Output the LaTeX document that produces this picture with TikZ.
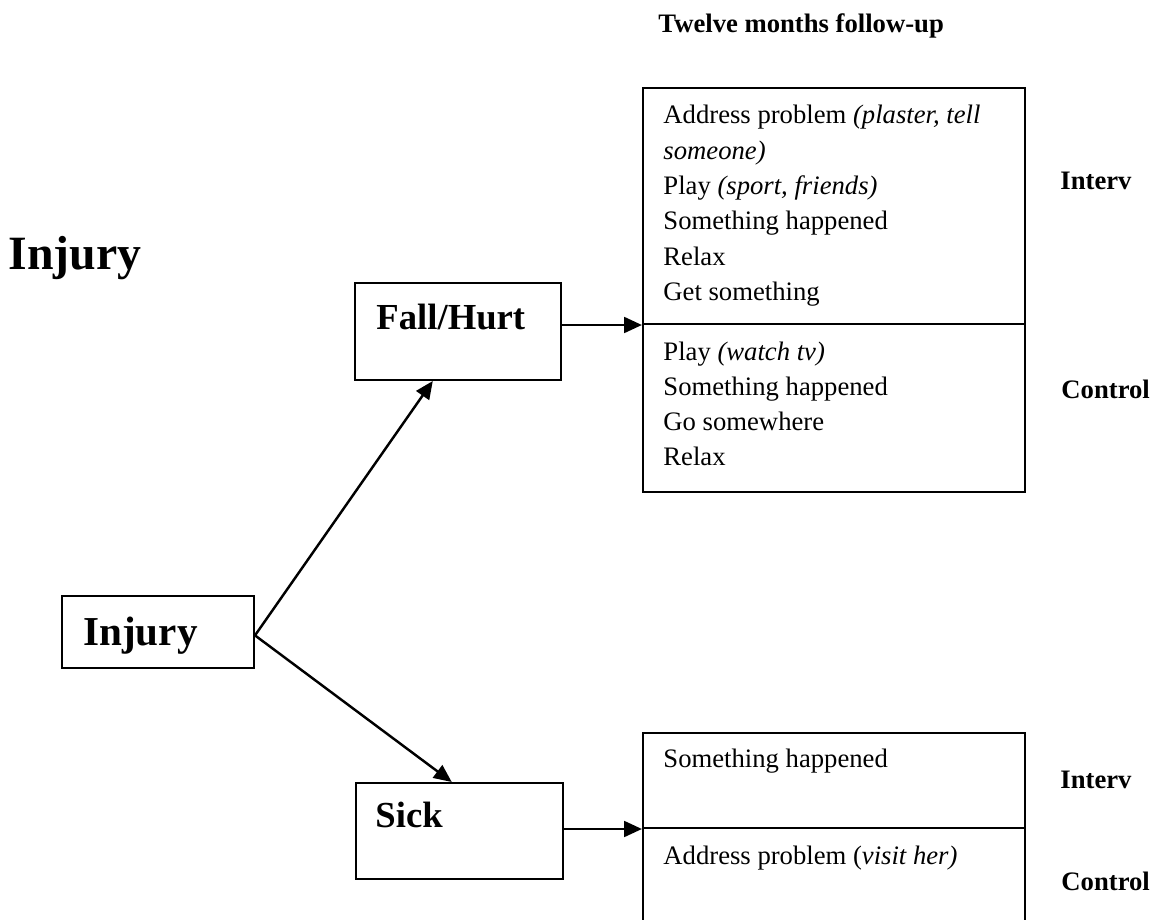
\documentclass[tikz,border=0pt]{standalone}
\usepackage{fontspec}
\setmainfont{Liberation Serif}
\usetikzlibrary{arrows.meta, positioning}
\newcommand{\pxu}{0.45pt}
\tikzstyle{frame} = [rectangle, draw=black, line width=0.9pt, inner sep=0pt]
\tikzstyle{heading} = [anchor=base west, inner sep=0pt, font=\bfseries\fontsize{16.5}{20}\selectfont]
\tikzstyle{item} = [anchor=base west, inner sep=0pt, font=\fontsize{12}{14}\selectfont]
\tikzstyle{tag} = [anchor=base west, inner sep=0pt, font=\bfseries\fontsize{12}{14}\selectfont]
\tikzstyle{arrow} = [line width=1.1pt, -{Triangle[length=8pt, width=7pt]}]
\begin{document}
\begin{tikzpicture}[x=\pxu, y=-\pxu]
    \useasboundingbox (0,0) rectangle (1164,920);
    \clip (0,0) rectangle (1164,920);

    % Titles
    \node[heading, font=\bfseries\fontsize{21.5}{25}\selectfont] (title) at (8,269) {Injury};
    \node[tag] (period) at (658,33) {Twelve months follow-up};

    % Category boxes
    \node[frame, minimum width=192*\pxu, minimum height=72*\pxu] (injury) at (158,632) {};
    \node[frame, minimum width=206*\pxu, minimum height=97*\pxu] (fall) at (458,331.5) {};
    \node[frame, minimum width=207*\pxu, minimum height=96*\pxu] (sick) at (459.5,831) {};
    \node[heading, font=\bfseries\fontsize{18.5}{22}\selectfont] (injuryTxt) at (83,645) {Injury};
    \node[heading] (fallTxt) at (376,329) {Fall/Hurt};
    \node[heading] (sickTxt) at (375,827) {Sick};

    % Follow-up boxes
    \node[frame, minimum width=382*\pxu, minimum height=236*\pxu] (fallInt) at (834,206) {};
    \node[frame, minimum width=382*\pxu, minimum height=168*\pxu] (fallCtl) at (834,408) {};
    \node[frame, minimum width=382*\pxu, minimum height=95*\pxu] (sickInt) at (834,780.5) {};
    \node[frame, minimum width=382*\pxu, minimum height=97*\pxu] (sickCtl) at (834,876.5) {};

    % Box contents
    \foreach \txt [count=\i from 0] in {{Address problem \textit{(plaster, tell}}, {\textit{someone)}},
        {Play \textit{(sport, friends)}}, {Something happened}, {Relax}, {Get something}}
        \node[item] (fi\i) at (663,124+35.3*\i) {\txt};
    \foreach \txt [count=\i from 0] in {{Play \textit{(watch tv)}}, {Something happened},
        {Go somewhere}, {Relax}}
        \node[item] (fc\i) at (663,360+35.3*\i) {\txt};
    \node[item] (si0) at (663,767) {Something happened};
    \node[item] (sc0) at (663,864) {Address problem (\textit{visit her)}};

    % Group labels
    \node[tag] (int1) at (1060,190) {Interv};
    \node[tag] (ctl1) at (1061,398) {Control};
    \node[tag] (int2) at (1060,788) {Interv};
    \node[tag] (ctl2) at (1061,890) {Control};

    % Arrows
    \draw[arrow] (injury.-2.5) -- (fall.243);
    \draw[arrow] (injury.-2.5) -- (sick.99);
    \draw[arrow, line width=1.3pt] (fall.east |- fallInt.south west) -- (fallInt.south west);
    \draw[arrow, line width=1.3pt] (sick.east |- sickInt.south west) -- (sickInt.south west);
\end{tikzpicture}
\end{document}
